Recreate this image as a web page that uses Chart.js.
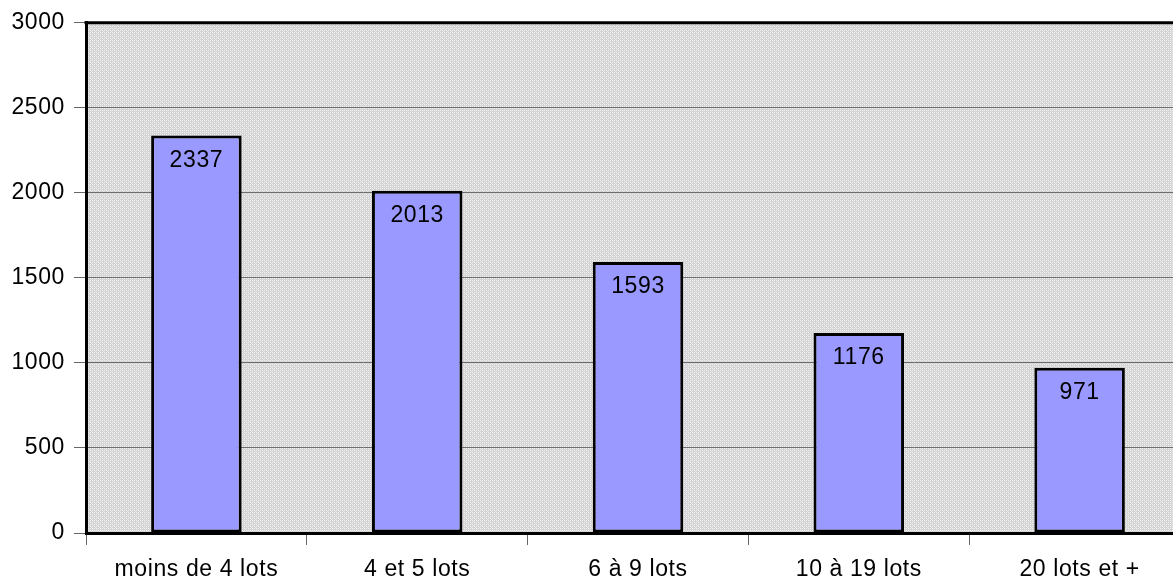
<!DOCTYPE html>
<html>
<head>
<meta charset="utf-8">
<script src="https://cdn.jsdelivr.net/npm/chart.js@4/dist/chart.umd.min.js"></script>
<style>
  html, body { margin: 0; padding: 0; background: #ffffff; overflow: hidden; }
  #wrap { width: 1173px; height: 579px; position: relative; overflow: hidden; }
</style>
</head>
<body>
<div id="wrap"><canvas id="c" width="1190" height="579"></canvas></div>
<script>
const categories = ['moins de 4 lots', '4 et 5 lots', '6 à 9 lots', '10 à 19 lots', '20 lots et +'];
const values = [2337, 2013, 1593, 1176, 971];
const yTicks = [0, 500, 1000, 1500, 2000, 2500, 3000];

const FONT = 'Liberation Sans, Arial, sans-serif';
const FONT_SIZE = 23;

// Small dotted tile used to fill the plotting area
function makePattern(ctx) {
  const t = document.createElement('canvas');
  t.width = 4; t.height = 4;
  const g = t.getContext('2d');
  g.fillStyle = '#d2d2d2';
  g.fillRect(0, 0, 4, 4);
  g.fillStyle = '#f2f2f2';
  g.fillRect(0, 0, 1, 1);
  g.fillRect(2, 0, 1, 1);
  g.fillRect(0, 2, 1, 1);
  g.fillRect(2, 2, 1, 1);
  g.fillStyle = '#e2e2e2';
  g.fillRect(1, 1, 1, 1);
  g.fillRect(3, 3, 1, 1);
  return ctx.createPattern(t, 'repeat');
}

const plotBackground = {
  id: 'plotBackground',
  beforeDraw(chart) {
    const { ctx, chartArea: a } = chart;
    ctx.letterSpacing = '0.6px';
    ctx.save();
    ctx.fillStyle = makePattern(ctx);
    ctx.fillRect(a.left, a.top, a.right - a.left, a.bottom - a.top);
    ctx.restore();
  }
};

const topBorder = {
  id: 'topBorder',
  afterDatasetsDraw(chart) {
    const { ctx, chartArea: a } = chart;
    ctx.save();
    ctx.strokeStyle = '#000';
    ctx.lineWidth = 3;
    ctx.beginPath();
    ctx.moveTo(a.left - 1.5, a.top);
    ctx.lineTo(a.right, a.top);
    ctx.stroke();
    ctx.restore();
  }
};

const valueLabels = {
  id: 'valueLabels',
  afterDatasetsDraw(chart) {
    const { ctx } = chart;
    const meta = chart.getDatasetMeta(0);
    ctx.save();
    ctx.fillStyle = '#000';
    ctx.font = FONT_SIZE + 'px ' + FONT;
    ctx.textAlign = 'center';
    ctx.textBaseline = 'middle';
    meta.data.forEach((bar, i) => {
      ctx.fillText(String(values[i]), bar.x, bar.y + 25);
    });
    ctx.restore();
  }
};

new Chart(document.getElementById('c'), {
  type: 'bar',
  data: {
    labels: categories,
    datasets: [{
      data: values,
      backgroundColor: '#9999ff',
      borderColor: '#000000',
      borderWidth: 3,
      borderSkipped: false,
      categoryPercentage: 1.0,
      barPercentage: 0.41
    }]
  },
  options: {
    responsive: false,
    animation: false,
    layout: { padding: { top: 22, right: 0, left: 0, bottom: 0 } },
    plugins: { legend: { display: false }, tooltip: { enabled: false } },
    scales: {
      x: {
        offset: true,
        grid: {
          offset: true,
          drawOnChartArea: false,
          drawTicks: true,
          tickLength: 12,
          tickColor: '#666666',
          lineWidth: 1
        },
        border: { display: true, color: '#000000', width: 3 },
        ticks: {
          color: '#000000',
          font: { family: FONT, size: FONT_SIZE },
          padding: 11,
          maxRotation: 0
        },
        afterFit(scale) { scale.height = 46; }
      },
      y: {
        min: 0,
        max: 3000,
        afterBuildTicks(scale) { scale.ticks = yTicks.map(v => ({ value: v })); },
        grid: {
          color: '#6e6e6e',
          lineWidth: 1,
          drawTicks: true,
          tickLength: 12,
          tickColor: '#666666'
        },
        border: { display: true, color: '#000000', width: 3 },
        ticks: {
          color: '#000000',
          font: { family: FONT, size: FONT_SIZE },
          padding: 9,
          callback: (v) => String(v)
        },
        afterFit(scale) { scale.width = 86; }
      }
    }
  },
  plugins: [plotBackground, topBorder, valueLabels]
});
</script>
</body>
</html>
